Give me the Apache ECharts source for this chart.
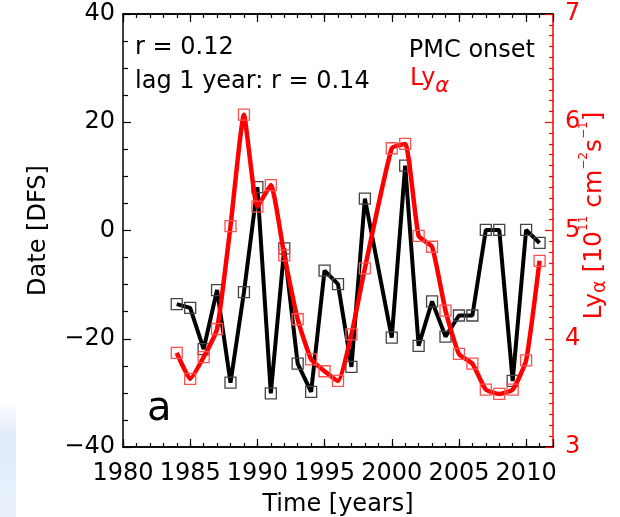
<!DOCTYPE html>
<html>
<head>
<meta charset="utf-8">
<script src="https://cdn.jsdelivr.net/npm/echarts@6/dist/echarts.min.js"></script>
<style>
  html, body { margin: 0; padding: 0; background: #fff; }
  #chart { width: 620px; height: 517px; }
</style>
</head>
<body>
<div id="chart"></div>
<script>
// PMC onset dates (days from solstice) and Lyman-alpha flux, 1984-2011 (no 1999 value)
const years = [1984, 1985, 1986, 1987, 1988, 1989, 1990, 1991, 1992, 1993, 1994, 1995, 1996, 1997,
               1998, 1999, 2000, 2001, 2002, 2003, 2004, 2005, 2006, 2007, 2008, 2009, 2010, 2011];
const onset = [-13.6, -14.3, -21.9, -11.0, -28.1, -11.4, 8.0, -30.1, -3.3, -24.6, -29.8, -7.4, -9.9, -25.2,
               5.9, null, -19.8, 12.0, -21.3, -13.1, -19.6, -15.7, -15.7, 0.1, 0.1, -27.8, 0.1, -2.3];
const lya = [3.87, 3.63, 3.83, 4.09, 5.04, 6.07, 5.22, 5.42, 4.77, 4.18, 3.81, 3.70, 3.61, 4.04,
             4.65, null, 5.76, 5.80, 4.95, 4.85, 4.26, 3.86, 3.77, 3.53, 3.49, 3.53, 3.80, 4.72];

const FONT = 'DejaVu Sans';
const RED = '#ff0000';

function pairs(vals) {
  const out = [];
  years.forEach((y, i) => { if (vals[i] !== null) out.push([y, vals[i]]); });
  return out;
}
const minus = v => String(v).replace('-', '\u2212');

const chart = echarts.init(document.getElementById('chart'), null, { renderer: 'canvas' });

const xCommon = {
  type: 'value', min: 1980, max: 2012,
  splitLine: { show: false },
  axisLine: { show: true, onZero: false, lineStyle: { color: '#000', width: 1.5 } }
};

chart.setOption({
  animation: false,
  backgroundColor: '#fff',
  grid: { left: 123, right: 67, top: 14, bottom: 70, containLabel: false, outerBoundsMode: 'none' },
  xAxis: [
    Object.assign({}, xCommon, {
      position: 'bottom', interval: 1,
      axisTick: { show: true, inside: true, length: 4, lineStyle: { color: '#000', width: 1.2 } },
      axisLabel: {
        show: true, interval: 0, margin: 15, color: '#000', fontFamily: FONT, fontSize: 24,
        formatter: v => (v % 5 === 0 && v <= 2010) ? String(v) : ''
      },
      name: 'Time [years]', nameLocation: 'middle', nameGap: 46,
      nameTextStyle: { color: '#000', fontFamily: FONT, fontSize: 24 }
    }),
    Object.assign({}, xCommon, {
      position: 'bottom', interval: 5,
      axisTick: { show: true, inside: true, length: 8, lineStyle: { color: '#000', width: 1.2 } },
      axisLabel: { show: false }
    }),
    Object.assign({}, xCommon, {
      position: 'top', interval: 1,
      axisTick: { show: true, inside: true, length: 4, lineStyle: { color: '#000', width: 1.2 } },
      axisLabel: { show: false }
    }),
    Object.assign({}, xCommon, {
      position: 'top', interval: 5,
      axisTick: { show: true, inside: true, length: 8, lineStyle: { color: '#000', width: 1.2 } },
      axisLabel: { show: false }
    })
  ],
  yAxis: [
    {
      type: 'value', position: 'left', min: -40, max: 40, interval: 20,
      splitLine: { show: false },
      axisLine: { show: true, onZero: false, lineStyle: { color: '#000', width: 1.5 } },
      axisTick: { show: true, inside: true, length: 8, lineStyle: { color: '#000', width: 1.2 } },
      minorTick: { show: true, splitNumber: 4, length: 5, lineStyle: { color: '#000', width: 1.2 } },
      axisLabel: { margin: 8, color: '#000', fontFamily: FONT, fontSize: 24, formatter: minus },
      name: 'Date [DFS]', nameLocation: 'middle', nameRotate: 90, nameGap: 72,
      nameTextStyle: { color: '#000', fontFamily: FONT, fontSize: 24 }
    },
    {
      type: 'value', position: 'right', min: 3, max: 7, interval: 1,
      splitLine: { show: false },
      axisLine: { show: true, onZero: false, lineStyle: { color: RED, width: 1.5 } },
      axisTick: { show: true, inside: true, length: 8, lineStyle: { color: RED, width: 1.2 } },
      minorTick: { show: true, splitNumber: 10, length: 4, lineStyle: { color: RED, width: 1.2 } },
      axisLabel: { margin: 12, color: RED, fontFamily: FONT, fontSize: 24 },
      name: '{n|Ly}{sub|\u03b1}{n| [10}{sup|11}{n| cm}{sup|\u22122}{n|s}{sup|\u22121}{n|]}',
      nameLocation: 'middle', nameRotate: 90, nameGap: 25, nameMoveOverlap: false,
      nameTextStyle: {
        color: RED, fontFamily: FONT, fontSize: 25, padding: [0, 0, 0, 30],
        rich: {
          n: { color: RED, fontFamily: FONT, fontSize: 25, lineHeight: 32 },
          sub: { color: RED, fontFamily: FONT, fontSize: 19, verticalAlign: 'bottom', lineHeight: 21 },
          sup: { color: RED, fontFamily: FONT, fontSize: 12, verticalAlign: 'top', lineHeight: 14 }
        }
      }
    }
  ],
  series: [
    {
      name: 'PMC onset', type: 'line', xAxisIndex: 0, yAxisIndex: 0,
      data: pairs(onset), connectNulls: true, z: 3,
      lineStyle: { color: '#000', width: 4 },
      symbol: 'rect', symbolSize: 11, showAllSymbol: true,
      itemStyle: { color: 'rgba(255,255,255,0)', borderColor: '#444', borderWidth: 1.3 }
    },
    {
      name: 'Ly-alpha', type: 'line', xAxisIndex: 0, yAxisIndex: 1,
      data: pairs(lya), connectNulls: true, smooth: 0.15, z: 4,
      lineStyle: { color: RED, width: 4.5 },
      symbol: 'rect', symbolSize: 11, showAllSymbol: true,
      itemStyle: { color: 'rgba(255,255,255,0)', borderColor: '#ff5050', borderWidth: 1.3 }
    }
  ],
  graphic: [
    {
      type: 'rect', z: -10, silent: true,
      shape: { x: 0, y: 400, width: 16, height: 117 },
      style: {
        fill: new echarts.graphic.LinearGradient(0, 0, 0, 1, [
          { offset: 0, color: 'rgba(225,236,250,0)' },
          { offset: 0.3, color: 'rgba(225,236,250,1)' },
          { offset: 1, color: 'rgba(232,241,251,1)' }
        ])
      }
    },
    {
      type: 'text', left: 135, top: 36, z: 10,
      style: { text: 'r = 0.12', fill: '#000', font: '24px "DejaVu Sans"' }
    },
    {
      type: 'text', left: 135, top: 70, z: 10,
      style: { text: 'lag 1 year: r = 0.14', fill: '#000', font: '24px "DejaVu Sans"' }
    },
    {
      type: 'text', right: 85, top: 39, z: 10,
      style: { text: 'PMC onset', fill: '#000', font: '24px "DejaVu Sans"' }
    },
    {
      type: 'text', left: 410, top: 67, z: 10,
      style: {
        text: '{n|Ly}{sub|\u03b1}',
        rich: {
          n: { fill: RED, font: '24px "DejaVu Sans"', lineHeight: 36 },
          sub: { fill: RED, font: 'italic 21px "DejaVu Sans"', verticalAlign: 'bottom', lineHeight: 18 }
        }
      }
    },
    {
      type: 'text', left: 147, top: 390, z: 10,
      style: { text: 'a', fill: '#000', font: '40px "DejaVu Sans"' }
    }
  ]
});
</script>
</body>
</html>
